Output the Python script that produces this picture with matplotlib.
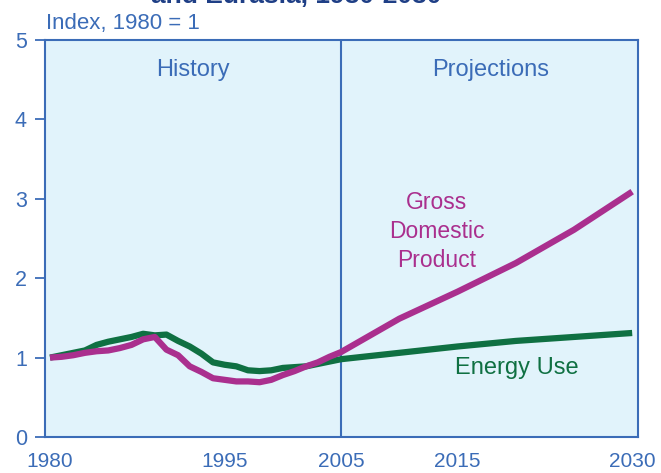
import matplotlib.pyplot as plt

# data (index, 1980 = 1)
hist_years = list(range(1980, 2006))
energy_hist = [1.00, 1.03, 1.06, 1.09, 1.16, 1.20, 1.23, 1.26, 1.30, 1.28,
               1.29, 1.21, 1.14, 1.05, 0.94, 0.91, 0.89, 0.84, 0.83, 0.84,
               0.87, 0.88, 0.89, 0.92, 0.95, 0.98]
gdp_hist = [1.00, 1.01, 1.03, 1.06, 1.08, 1.09, 1.12, 1.16, 1.23, 1.26,
            1.10, 1.03, 0.89, 0.82, 0.74, 0.72, 0.70, 0.70, 0.69, 0.72,
            0.78, 0.83, 0.89, 0.94, 1.01, 1.07]

proj_years = [2005, 2010, 2015, 2020, 2025, 2030]
energy_proj = [0.98, 1.06, 1.14, 1.21, 1.26, 1.31]
gdp_proj = [1.07, 1.49, 1.83, 2.19, 2.61, 3.09]

xtick_years = [1980, 1995, 2005, 2015, 2030]
ytick_vals = [0, 1, 2, 3, 4, 5]

# colours
blue = "#3b6cb7"
navy = "#1f3f86"
green = "#0f7042"
magenta = "#aa2f8e"
bg = "#e1f3fb"

plt.rcParams["font.family"] = ["Liberation Sans", "DejaVu Sans"]

fig = plt.figure(figsize=(6.61, 4.73), dpi=100)
ax = fig.add_axes([45 / 661, 1 - 437 / 473, 593 / 661, 397 / 473])
ax.set_facecolor(bg)

ax.plot(hist_years + proj_years[1:], energy_hist + energy_proj[1:],
        color=green, lw=4.5, solid_capstyle="butt", zorder=3)
ax.plot(hist_years + proj_years[1:], gdp_hist + gdp_proj[1:],
        color=magenta, lw=4.5, solid_capstyle="butt", zorder=4)

# history / projections divider
ax.axvline(2005, color=blue, lw=1.5, zorder=2)

ax.set_xlim(1979.57, 2030.5)
ax.set_ylim(0, 5)
ax.set_xticks(xtick_years)
ax.set_yticks(ytick_vals)
ax.tick_params(axis="y", direction="out", length=7, width=1.3, color=blue,
               labelcolor=blue, labelsize=15.5, pad=6)
ax.tick_params(axis="x", length=0, labelcolor=blue, labelsize=15, pad=11)
for s in ax.spines.values():
    s.set_color(blue)
    s.set_linewidth(1.5)

# annotations
ax.text(1992.3, 4.62, "History", color=blue, fontsize=17, ha="center", va="center")
ax.text(2017.8, 4.62, "Projections", color=blue, fontsize=17, ha="center", va="center")
ax.text(2013.2, 2.59, "Gross\nDomestic\nProduct", color=magenta, fontsize=16.5,
        ha="center", va="center", multialignment="center", linespacing=1.35)
ax.text(2020.1, 0.875, "Energy Use", color=green, fontsize=17, ha="center", va="center")

fig.text(46 / 661, 1 - 29 / 473, "Index, 1980 = 1", color=blue, fontsize=16,
         ha="left", va="baseline")
# title, cut off at the top edge as in the source
fig.text(296 / 661, 1 - 3 / 473, "and Eurasia, 1980-2030", color=navy,
         fontsize=19, fontweight="bold", ha="center", va="baseline")

fig.savefig("out.png", dpi=100)
